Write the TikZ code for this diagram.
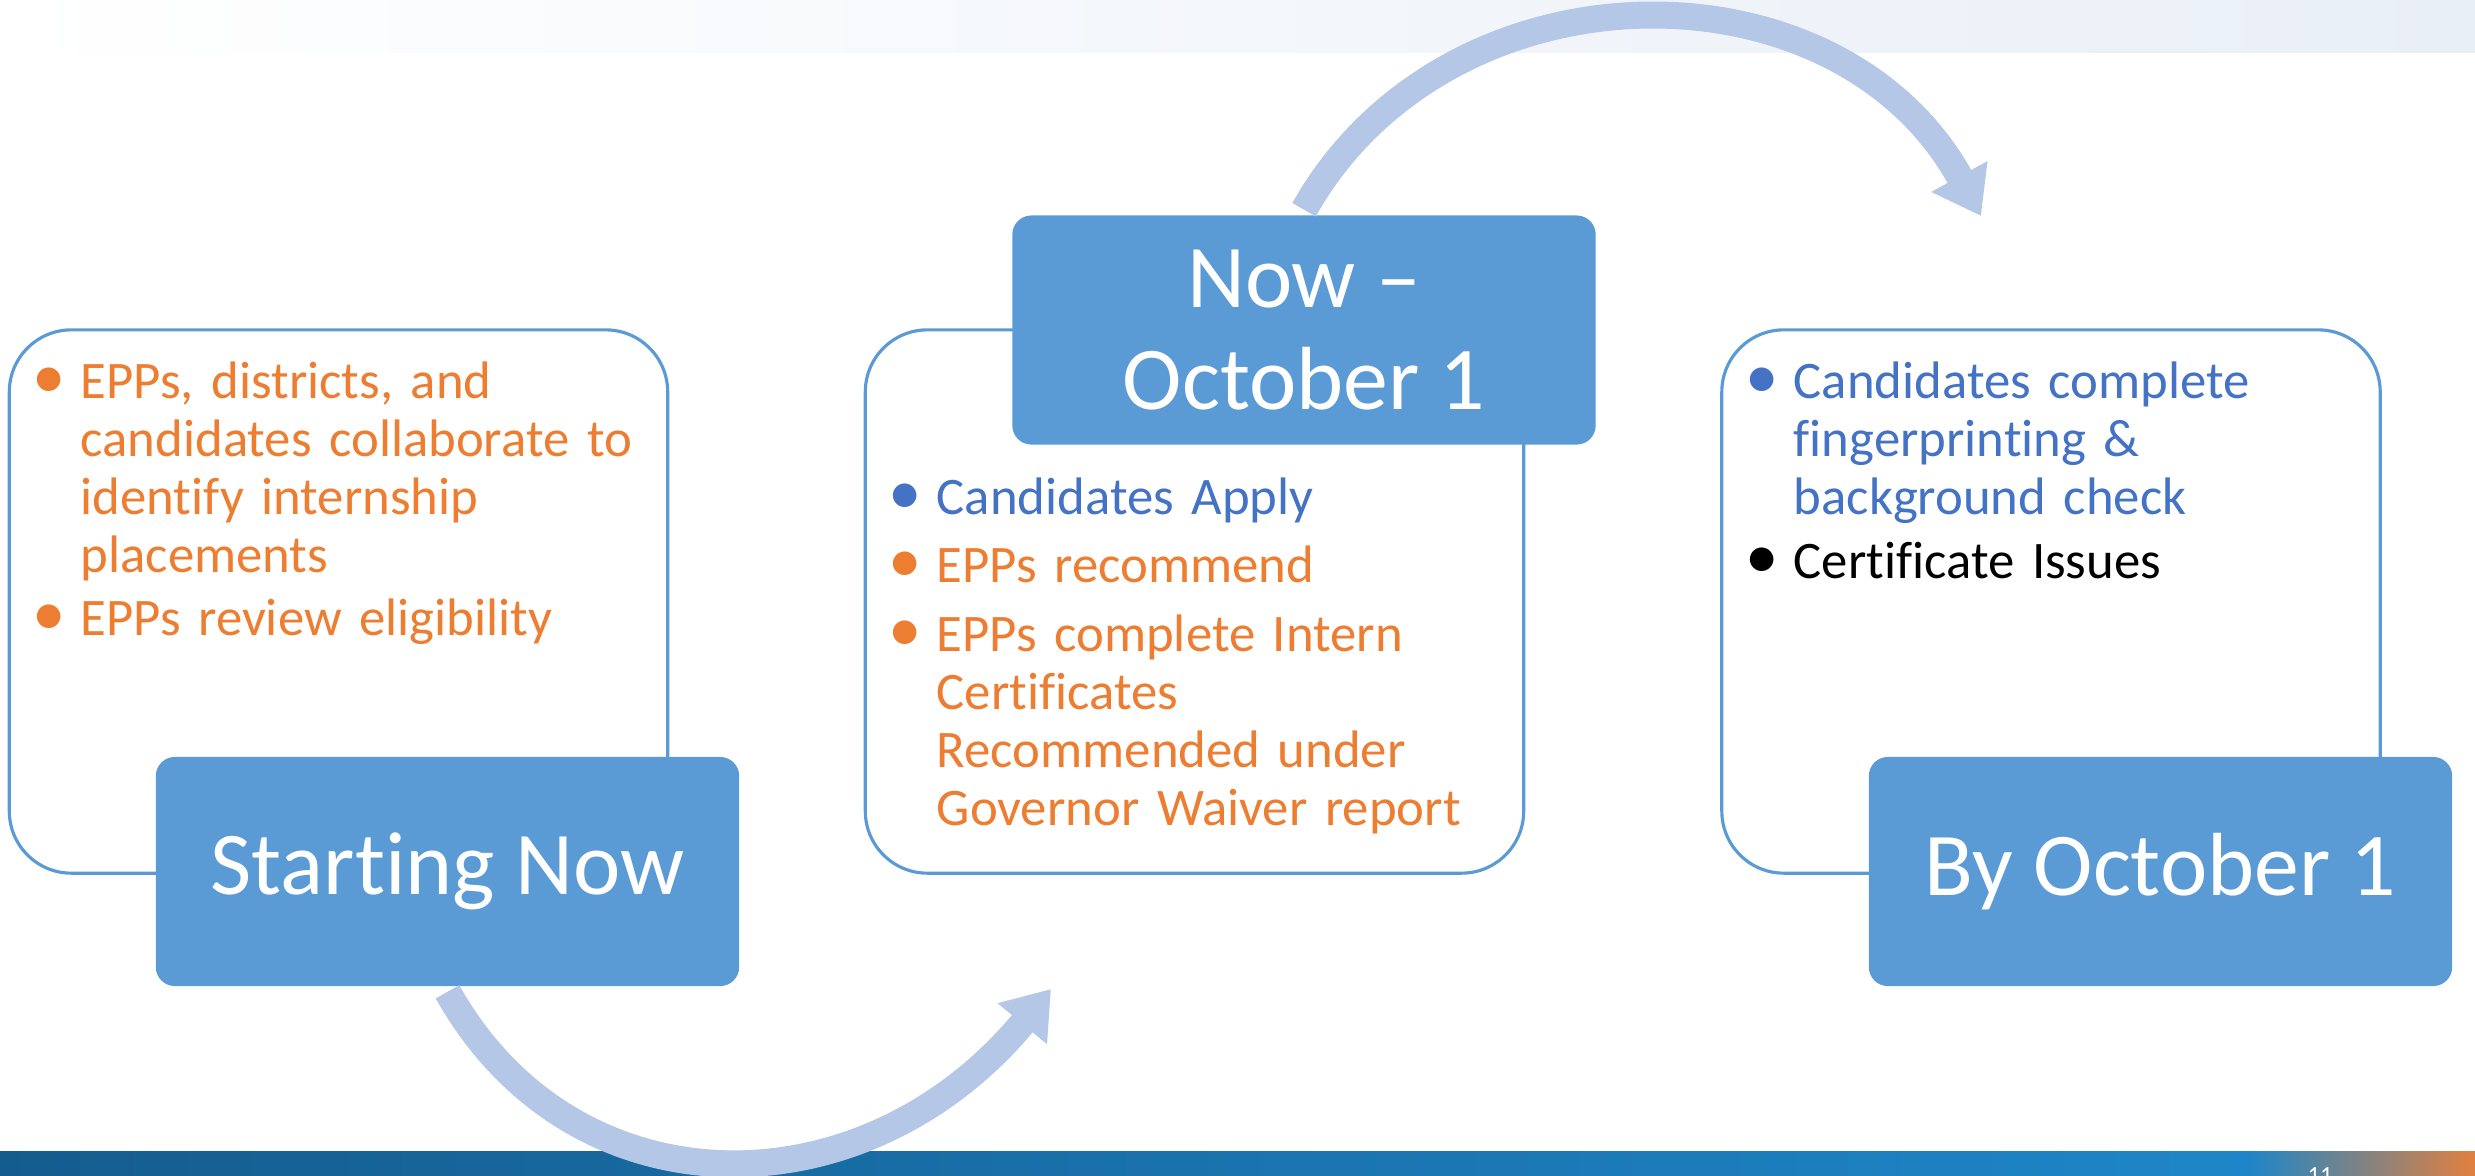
\documentclass[tikz,border=0pt]{standalone}
\usepackage{fontspec}
\setmainfont{Carlito}[Ligatures=NoCommon]
\usetikzlibrary{arrows.meta}
\usetikzlibrary{positioning}
\definecolor{boxblue}{HTML}{5B9BD5}
\definecolor{arcblue}{HTML}{B4C7E7}
\definecolor{eppsorange}{HTML}{ED7D31}
\definecolor{candblue}{HTML}{4472C4}
\definecolor{bandtop}{HTML}{E9EFF7}
\definecolor{banddark}{HTML}{155C8E}
\definecolor{bandmid}{HTML}{1E86C8}
\definecolor{bandend}{HTML}{E2803F}
\newlength{\bulind}
\setlength{\bulind}{0.42cm}
\newcommand{\bitem}[2]{\par\noindent{\color{#1}\makebox[\bulind][l]{\strut\hspace{-0.06cm}{\fontsize{19}{16}\selectfont\textbullet}}\parbox[t]{5.6cm}{\raggedright\strut #2}}}

\begin{document}
\begin{tikzpicture}[x=0.01cm,y=-0.01cm,line join=round,
  stagebox/.style={rectangle,rounded corners=0.19cm,fill=boxblue,text=white,minimum width=5.83cm,minimum height=2.29cm,align=center,font=\fontsize{25.5}{29}\selectfont},
  cardbox/.style={rectangle,rounded corners=0.62cm,draw=boxblue,line width=0.9pt,fill=white,minimum width=6.58cm,minimum height=5.43cm},
  itemlist/.style={anchor=north west,inner sep=0pt,text width=6.2cm,align=left,font=\fontsize{15}{16.5}\selectfont,execute at begin node={\setlength{\parskip}{3pt}}},
  cyclearrow/.style={draw=arcblue,line width=0.27cm,-{Triangle[width=0.61cm,length=0.45cm]}}]
\useasboundingbox (0,0) rectangle (2475,1175);
\shade[left color=white,right color=bandtop] (0,0) rectangle (2475,52);
\shade[left color=banddark,right color=bandmid] (0,1151) rectangle (2250,1175);
\shade[left color=bandmid,right color=bandend] (2249,1151) rectangle (2475,1175);
\node[cardbox] (startcard) at (338.5,601.5) {};
\node[cardbox] (nowcard) at (1194.5,601.5) {};
\node[cardbox] (bycard) at (2051,601.5) {};
\node[itemlist] (startlist) at (38,329) {\bitem{eppsorange}{EPPs, districts, and\newline candidates collaborate to\newline identify internship\newline placements}\bitem{eppsorange}{EPPs review eligibility}};
\node[itemlist] (nowlist) at (894,445) {\bitem{candblue}{Candidates Apply}\bitem{eppsorange}{EPPs recommend}\bitem{eppsorange}{EPPs complete Intern\newline Certificates\newline Recommended under\newline Governor Waiver report}};
\node[itemlist] (bylist) at (1751,329) {\bitem{candblue}{Candidates complete\newline fingerprinting \&\newline background check}\bitem{black}{Certificate Issues}};
\node[stagebox] (startlabel) at (447.5,871.5) {Starting Now};
\node[stagebox] (nowlabel) at (1304,330) {Now --\\October 1};
\node[stagebox] (bylabel) at (2160.5,871.5) {By October 1};
\coordinate (arcAend) at (1051,989);
\coordinate (arcBend) at (1981,216);
\draw[cyclearrow] ([yshift=-0.05cm]startlabel.south) .. controls (573,1216) and (863,1216) .. (arcAend);
\draw[cyclearrow] ([yshift=0.05cm]nowlabel.north) .. controls (1447,-44) and (1838,-45) .. (arcBend);
\node[text=white,font=\fontsize{7}{8}\selectfont,anchor=base] (pagenum) at (2320,1183) {11};
\end{tikzpicture}
\end{document}
